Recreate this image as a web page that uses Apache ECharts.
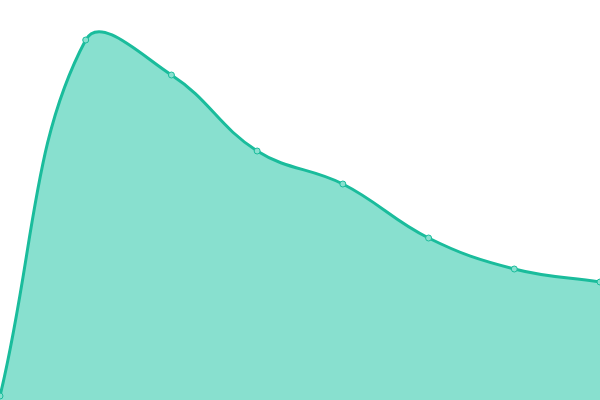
<!DOCTYPE html>
<html><head><meta charset="utf-8">
<script src="https://cdn.jsdelivr.net/npm/echarts@6/dist/echarts.min.js"></script>
<style>html,body{margin:0;padding:0;background:#fff}#c{width:600px;height:400px}</style>
</head><body><div id="c"></div>
<script>
const categories = ['1','2','3','4','5','6','7','8'];
const values = [4, 360, 325, 249, 216, 162, 131, 118];

const LINE = '#1abc9c';
const FILL = '#88e0cf';
const TENSION = 0.4;

function controlPoints(pts) {
  // spline control points computed in pixel space (tension-based)
  const out = [];
  for (let i = 0; i < pts.length; i++) {
    const prev = pts[Math.max(0, i - 1)];
    const cur = pts[i];
    const next = pts[Math.min(pts.length - 1, i + 1)];
    const d01 = Math.hypot(cur[0] - prev[0], cur[1] - prev[1]);
    const d12 = Math.hypot(next[0] - cur[0], next[1] - cur[1]);
    let s01 = d01 / (d01 + d12), s12 = d12 / (d01 + d12);
    if (isNaN(s01)) s01 = 0; if (isNaN(s12)) s12 = 0;
    const fa = TENSION * s01, fb = TENSION * s12;
    out.push({
      p: [cur[0] - fa * (next[0] - prev[0]), cur[1] - fa * (next[1] - prev[1])],
      n: [cur[0] + fb * (next[0] - prev[0]), cur[1] + fb * (next[1] - prev[1])]
    });
  }
  return out;
}

function renderItem(params, api) {
  const idx = params.dataIndex;
  const c = api.coord([idx, values[idx]]);
  const circle = {
    type: 'circle', shape: {cx: c[0], cy: c[1], r: 3},
    style: {fill: FILL, stroke: LINE, lineWidth: 1}, z2: 10
  };
  if (idx !== 0) return circle;
  const pts = values.map((v, i) => api.coord([i, v]));
  const base = api.coord([0, 0])[1];
  const cps = controlPoints(pts);
  let d = 'M' + pts[0][0] + ',' + pts[0][1];
  for (let i = 1; i < pts.length; i++) {
    const a = cps[i - 1].n, b = cps[i].p;
    d += 'C' + a[0] + ',' + a[1] + ',' + b[0] + ',' + b[1] + ',' + pts[i][0] + ',' + pts[i][1];
  }
  const last = pts[pts.length - 1];
  const area = d + 'L' + last[0] + ',' + base + 'L' + pts[0][0] + ',' + base + 'Z';
  return {
    type: 'group',
    children: [
      {type: 'path', shape: {pathData: area}, style: {fill: FILL, stroke: null}, z2: 1},
      {type: 'path', shape: {pathData: d}, style: {fill: null, stroke: LINE, lineWidth: 3, lineJoin: 'round'}, z2: 2},
      circle
    ]
  };
}

const chart = echarts.init(document.getElementById('c'));
chart.setOption({
  animation: false,
  grid: {left: 0, right: 0, top: 0, bottom: 0},
  xAxis: {type: 'category', data: categories, boundaryGap: false, show: false},
  yAxis: {type: 'value', min: 0, max: 400, show: false},
  series: [{
    type: 'custom',
    data: values.map((v, i) => [i, v]),
    encode: {x: 0, y: 1},
    clip: true,
    renderItem: renderItem
  }]
});
</script></body></html>
